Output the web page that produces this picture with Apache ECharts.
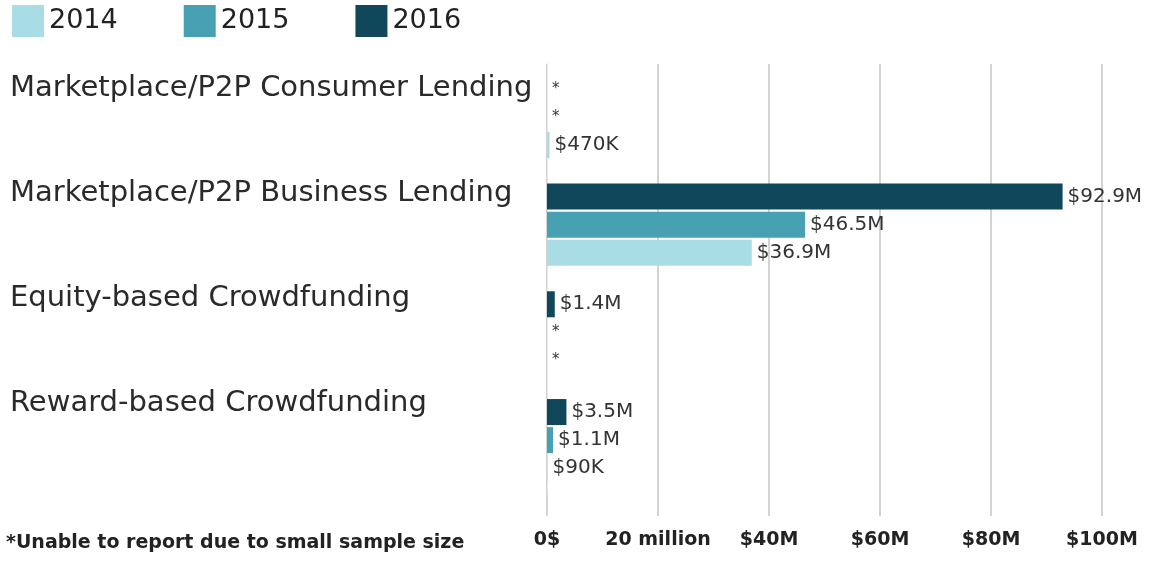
<!DOCTYPE html>
<html>
<head>
<meta charset="utf-8">
<script src="https://cdn.jsdelivr.net/npm/echarts@6/dist/echarts.min.js"></script>
<style>
  html, body { margin: 0; padding: 0; background: #fff; }
  #chart { width: 1161px; height: 577px; }
</style>
</head>
<body>
<div id="chart"></div>
<script>
// values in $ millions, null = not reported (small sample)
const categories = [
  'Marketplace/P2P Consumer Lending',
  'Marketplace/P2P Business Lending',
  'Equity-based Crowdfunding',
  'Reward-based Crowdfunding'
]
const years = ['2014', '2015', '2016']
const values2014 = [0.47, 36.9, null, 0.09]
const values2015 = [null, 46.5, null, 1.1]
const values2016 = [null, 92.9, 1.4, 3.5]
const xTicks = ['0$', '20 million', '$40M', '$60M', '$80M', '$100M']
const footnote = '*Unable to report due to small sample size'

const colors = { '2014': '#a8dde6', '2015': '#48a1b3', '2016': '#10475a' }
const font = '"DejaVu Sans", sans-serif'

function money(v) {
  return v < 1 ? '$' + Math.round(v * 1000) + 'K' : '$' + v + 'M'
}

function toData(arr) {
  return arr.map(v => v == null
    ? { value: 0, label: { formatter: '*', fontSize: 15 } }
    : { value: v })
}

function barSeries(name, arr) {
  return {
    name: name,
    type: 'bar',
    xAxisIndex: 1,
    yAxisIndex: 1,
    data: toData(arr),
    barWidth: 26,
    barGap: '8%',
    itemStyle: { color: colors[name] },
    label: {
      show: true,
      position: 'right',
      distance: 5,
      fontFamily: font,
      fontSize: 20,
      color: '#333',
      formatter: p => money(p.value)
    }
  }
}

const chart = echarts.init(document.getElementById('chart'))

chart.setOption({
  backgroundColor: '#fff',
  animation: false,
  title: {
    text: footnote,
    left: 6,
    top: 534,
    padding: 0,
    textStyle: { fontFamily: font, fontSize: 19, fontWeight: 'bold', color: '#222' }
  },
  legend: {
    data: years,
    left: 7,
    top: 0,
    itemWidth: 32,
    itemHeight: 32,
    itemGap: 66,
    icon: 'rect',
    textStyle: { fontFamily: font, fontSize: 27, color: '#222' }
  },
  grid: [
    // gridlines + tick labels
    { left: 547, right: 59, top: 64, bottom: 61 },
    // bars
    { left: 547, right: 59, top: 63, height: 431 },
    // category titles
    { left: 547, right: 59, top: 36, height: 420 }
  ],
  xAxis: [
    {
      gridIndex: 0,
      type: 'value',
      min: 0,
      max: 100,
      interval: 20,
      axisLine: { show: false },
      axisTick: { show: false },
      splitLine: { lineStyle: { color: '#c4c4c4', width: 1.5 } },
      axisLabel: {
        margin: 15,
        fontFamily: font,
        fontSize: 19,
        fontWeight: 'bold',
        color: '#222',
        formatter: (v, i) => xTicks[i]
      }
    },
    { gridIndex: 1, type: 'value', min: 0, max: 100, show: false },
    { gridIndex: 2, type: 'value', min: 0, max: 100, show: false }
  ],
  yAxis: [
    { gridIndex: 0, type: 'value', show: false },
    {
      gridIndex: 1,
      type: 'category',
      inverse: true,
      data: categories,
      axisLine: { show: true, lineStyle: { color: '#dbeaee', width: 1 } },
      axisTick: { show: false },
      axisLabel: { show: false }
    },
    {
      gridIndex: 2,
      type: 'category',
      inverse: true,
      data: categories,
      axisLine: { show: false },
      axisTick: { show: false },
      axisLabel: {
        align: 'left',
        margin: 537,
        fontFamily: font,
        fontSize: 29,
        color: '#2a2a2a'
      }
    }
  ],
  series: [
    barSeries('2016', values2016),
    barSeries('2015', values2015),
    barSeries('2014', values2014)
  ]
})
</script>
</body>
</html>
